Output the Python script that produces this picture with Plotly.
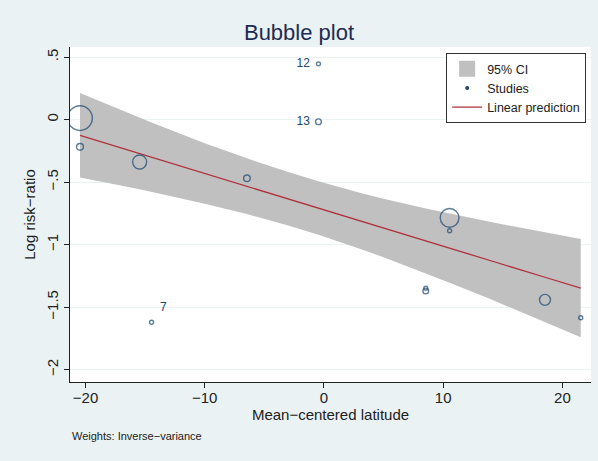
import plotly.graph_objects as go

# Studies (BCG trials): mean-centered latitude, log risk-ratio, inverse-variance weight
study = [1, 2, 3, 4, 5, 6, 7, 8, 9, 10, 11, 12, 13]
latitude = [10.54, 21.54, 8.54, 18.54, -20.46, 10.54, -14.46, -20.46, -6.46, 8.54, -15.46, -0.46, -0.46]
log_rr = [-0.889, -1.585, -1.348, -1.442, -0.218, -0.786, -1.621, 0.012, -0.469, -1.371, -0.339, 0.446, -0.017]
weight = [3.07, 5.14, 2.41, 50.0, 19.2, 145.3, 4.48, 251.9, 17.7, 13.7, 80.6, 1.88, 14.0]

# Linear prediction with 95% CI
pred_x = [-20.46, -18, -15.46, -14.46, -10, -6.46, -3, -0.46, 3, 5, 8.54, 10.54, 14, 18.54, 21.54]
pred_fit = [-0.126, -0.198, -0.271, -0.300, -0.430, -0.533, -0.634, -0.708, -0.809, -0.867,
            -0.970, -1.028, -1.129, -1.261, -1.348]
pred_hi = [0.212, 0.114, 0.016, -0.023, -0.189, -0.310, -0.420, -0.494, -0.585, -0.633,
           -0.711, -0.752, -0.819, -0.902, -0.955]
pred_lo = [-0.464, -0.509, -0.557, -0.577, -0.672, -0.756, -0.848, -0.922, -1.033, -1.101,
           -1.229, -1.304, -1.438, -1.620, -1.742]

# labelled studies
lab_study = ["7", "12", "13"]
lab_x = [-14.46, -0.46, -0.46]
lab_y = [-1.621, 0.446, -0.017]
lab_pos = ["top right", "middle left", "middle left"]

ytick_vals = [0.5, 0, -0.5, -1, -1.5, -2]
ytick_text = [".5", "0", "\u2212.5", "\u22121", "\u22121.5", "\u22122"]
xtick_vals = [-20, -10, 0, 10, 20]
xtick_text = ["\u221220", "\u221210", "0", "10", "20"]

navy = "#1A476F"
band = "#C0C0C0"
fig = go.Figure()

# CI band
fig.add_trace(go.Scatter(
    x=pred_x + pred_x[::-1], y=pred_hi + pred_lo[::-1],
    fill="toself", fillcolor=band, line=dict(width=0),
    mode="lines", showlegend=False, hoverinfo="skip"))

# fitted line
fig.add_trace(go.Scatter(
    x=pred_x, y=pred_fit, mode="lines", name="Linear prediction",
    line=dict(color="#B0303A", width=1.3), legendrank=3))

# bubbles
fig.add_trace(go.Scatter(
    x=latitude, y=log_rr, mode="markers", showlegend=False,
    marker=dict(size=weight, sizemode="area", sizeref=0.826, sizemin=2,
                color="rgba(0,0,0,0)", line=dict(color=navy, width=1.4))))

# legend entries
fig.add_trace(go.Scatter(
    x=[None], y=[None], mode="markers", name="95% CI", legendrank=1,
    marker=dict(size=17, symbol="square", color=band)))
fig.add_trace(go.Scatter(
    x=[None], y=[None], mode="markers", name="Studies", legendrank=2,
    marker=dict(size=4, color=navy)))

# study labels
fig.add_trace(go.Scatter(
    x=lab_x, y=lab_y, mode="markers+text", text=lab_study, textposition=lab_pos,
    marker=dict(size=12, color="rgba(0,0,0,0)"),
    textfont=dict(size=12, color=navy), showlegend=False, hoverinfo="skip"))

fig.update_layout(
    width=598, height=461,
    margin=dict(l=70, r=7, t=47, b=79, autoexpand=False),
    paper_bgcolor="#EAF2F3", plot_bgcolor="white",
    font=dict(family="Liberation Sans, Arial", size=12, color="#222"),
    title=dict(text="Bubble plot", x=0.5, xanchor="center", y=0.93, yanchor="middle",
               font=dict(size=22, color="#1E2C53")),
    legend=dict(x=0.722, y=0.982, xanchor="left", yanchor="top",
                bgcolor="white", bordercolor="#333", borderwidth=1,
                font=dict(size=12.5), traceorder="normal", tracegroupgap=0,
                itemwidth=30),
    showlegend=True,
)

fig.update_xaxes(range=[-21.3, 22.4], tickvals=xtick_vals, ticktext=xtick_text,
                 ticks="outside", ticklen=5, tickcolor="#222", showgrid=False,
                 zeroline=False, showline=True, linecolor="#222", linewidth=1,
                 automargin=False, ticklabelstandoff=-3,
                 title=dict(text="Mean\u2212centered latitude", standoff=0,
                            font=dict(size=15)),
                 tickfont=dict(size=15))
fig.update_yaxes(range=[-2.099, 0.581], tickvals=ytick_vals, ticktext=ytick_text,
                 ticks="outside", ticklen=5, tickcolor="#222", tickangle=-90,
                 showgrid=True, gridcolor="#EAF2F3", gridwidth=1,
                 zeroline=False, showline=True, linecolor="#222", linewidth=1,
                 automargin=False,
                 title=dict(text="Log risk\u2212ratio", standoff=4, font=dict(size=15)),
                 tickfont=dict(size=15))

fig.add_annotation(text="Weights: Inverse\u2212variance", xref="paper", yref="paper",
                   x=0.0, y=-0.16, xanchor="left", yanchor="middle", showarrow=False,
                   font=dict(size=11, color="#222"))

fig.write_html("out.html", config={"displayModeBar": False},
               post_script="document.body.style.margin='0px';")
